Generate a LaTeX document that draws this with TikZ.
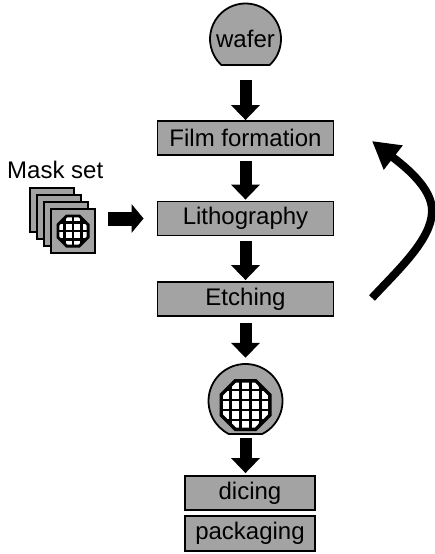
\documentclass[tikz,border=0pt]{standalone}
\usepackage{fontspec}
\setmainfont{Liberation Sans}
\usetikzlibrary{arrows.meta}
\definecolor{boxgray}{gray}{0.64}
\begin{document}
\begin{tikzpicture}[x=1pt,y=-1pt,
  label font/.style={font=\fontsize{24}{28}\selectfont},
  stepbox/.style={draw, line width=1.8pt, fill=boxgray, inner sep=0pt,
    minimum height=34pt, label font},
  blockarrow/.style={line width=12pt, -{Triangle[width=28pt,length=15pt]}},
  sidearrow/.style={line width=14pt, -{Triangle[width=28pt,length=12pt]}},
  looparrow/.style={line width=8pt, -{Triangle[width=29pt,length=27pt]}},
  waferbody/.style={fill=boxgray, draw, line width=1.8pt},
  maskplate/.style={draw, line width=1.8pt, fill=boxgray, inner sep=0pt,
    minimum size=44pt},
]
\useasboundingbox (0,0) rectangle (435,554);
\fill[white] (0,0) rectangle (435,554);

% ---- process steps ----
\node[stepbox, minimum width=176pt] (film)  at (245.5,138)   {Film formation};
\node[stepbox, minimum width=176pt] (litho) at (245.5,218.5) {Lithography};
\node[stepbox, minimum width=176pt] (etch)  at (245.5,299)   {Etching};
\node[stepbox, minimum width=130pt] (dice)  at (250,493)     {dicing};
\node[stepbox, minimum width=130pt, minimum height=35pt] (pack) at (250,533.5) {packaging};

% ---- bare wafer with flat ----
\draw[waferbody] (269.67,65) arc[start angle=47.1, end angle=-227.1, radius=35.5] -- cycle;
\node[label font, inner sep=0pt] (wafer) at (245.5,39) {wafer};

% ---- patterned wafer ----
\node[circle, minimum size=74pt, inner sep=0pt] (chip) at (245.5,401) {};
\draw[waferbody] (262.2,434) arc[start angle=63.2, end angle=-243.2, radius=37] -- cycle;
\begin{scope}[shift={(245.5,405)}]
  \fill (-10.8,-26) -- (10.8,-26) -- (26,-10.8) -- (26,10.8) -- (10.8,26)
        -- (-10.8,26) -- (-26,10.8) -- (-26,-10.8) -- cycle;
  \clip (-9.3,-22.5) -- (9.3,-22.5) -- (22.5,-9.3) -- (22.5,9.3) -- (9.3,22.5)
        -- (-9.3,22.5) -- (-22.5,9.3) -- (-22.5,-9.3) -- cycle;
  \foreach \i in {-2,...,2}
    \foreach \j in {-2,...,2}
      \fill[white] (\i*10-3.6,\j*10-3.6) rectangle ++(7.2,7.2);
\end{scope}

% ---- mask set ----
\node[label font, anchor=base west, inner sep=0pt] (masklabel) at (7,178) {Mask set};
\node[maskplate] (m1) at (52,210) {};
\node[maskplate] (m2) at (59,217) {};
\node[maskplate] (m3) at (66,224) {};
\node[maskplate] (m4) at (73,231) {};
\begin{scope}[shift={(73,231)}]
  \fill (-6.8,-16.5) -- (6.8,-16.5) -- (16.5,-6.8) -- (16.5,6.8) -- (6.8,16.5)
        -- (-6.8,16.5) -- (-16.5,6.8) -- (-16.5,-6.8) -- cycle;
  \clip (-5.6,-13.6) -- (5.6,-13.6) -- (13.6,-5.6) -- (13.6,5.6) -- (5.6,13.6)
        -- (-5.6,13.6) -- (-13.6,5.6) -- (-13.6,-5.6) -- cycle;
  \foreach \i in {-1.5,-0.5,0.5,1.5}
    \foreach \j in {-1.5,-0.5,0.5,1.5}
      \fill[white] (\i*8.5-3.1,\j*8.5-3.1) rectangle ++(6.2,6.2);
\end{scope}

% ---- flow arrows ----
\draw[blockarrow] ([yshift=-41pt]wafer.center) -- (film.north);
\draw[blockarrow] ([yshift=-5pt]film.south) -- ([yshift=1pt]litho.north);
\draw[blockarrow] ([yshift=-5pt]litho.south) -- ([yshift=1pt]etch.north);
\draw[blockarrow] ([yshift=-6pt]etch.south) -- ([yshift=6pt]chip.north);
\draw[blockarrow] (chip.south) -- ([yshift=2pt]chip.south |- dice.north);
\draw[sidearrow] ([xshift=12pt]m4.east |- litho.west) -- ([xshift=-13pt]litho.west);

% ---- repeat loop ----
\coordinate (loopstart) at (372,298);
\coordinate (loopend) at (372,141);
\draw[looparrow] (loopstart) .. controls (398,270) and (431,240) .. (432,212)
  .. controls (433,188) and (404,166) .. (loopend);
\end{tikzpicture}
\end{document}
